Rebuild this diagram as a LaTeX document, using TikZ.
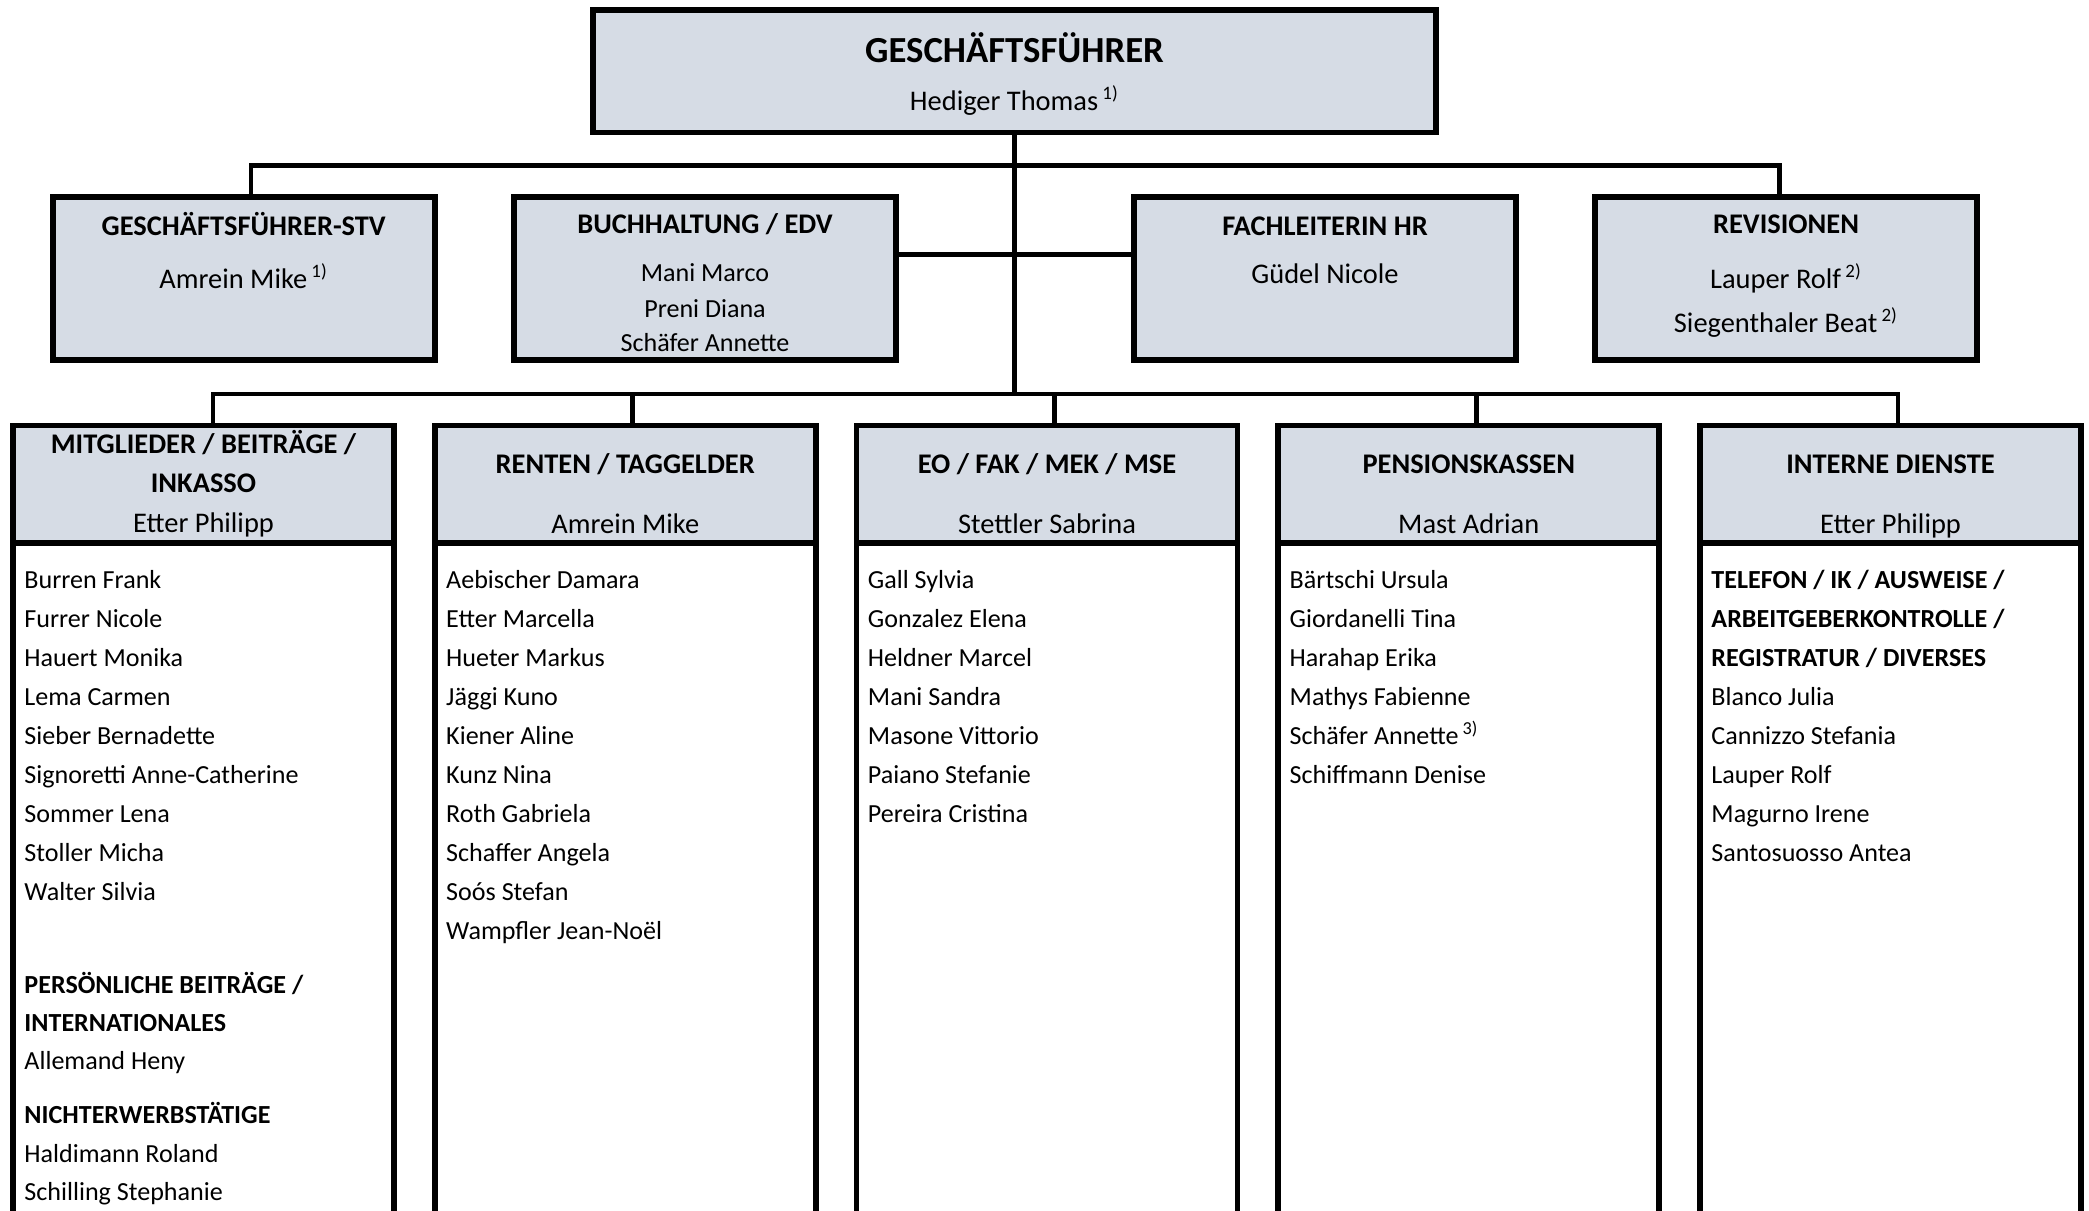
\documentclass[tikz,border=0pt]{standalone}
\usepackage{fontspec}
\setmainfont{Carlito}

\newdimen\pxu
\pxu=0.422pt
\newcommand{\refmark}[1]{\textsuperscript{\ #1)}}

\begin{document}
\begin{tikzpicture}[x=0.422pt,y=-0.422pt]

  \definecolor{boxcol}{RGB}{214,220,229}

 \tikzset{
      boxstl/.style={draw,line width=2.5pt,fill=boxcol,inner sep=0pt,
        outer sep=0pt,anchor=north west},
      topbox/.style={boxstl,minimum width=843*\pxu,minimum height=122.5*\pxu},
      midbox/.style={boxstl,minimum width=382*\pxu,minimum height=163*\pxu},
      headbox/.style={boxstl,minimum width=381*\pxu,minimum height=117.5*\pxu},
      bodybox/.style={boxstl,fill=white,minimum width=381*\pxu,minimum height=800*\pxu},
      linkstl/.style={line width=2pt},
      bigttl/.style={anchor=base,inner sep=0pt,font=\bfseries\fontsize{15.5}{18}\selectfont},
      ttl/.style={anchor=base,inner sep=0pt,font=\bfseries\fontsize{12}{14}\selectfont},
      nm/.style={anchor=base,inner sep=0pt,font=\fontsize{12}{14}\selectfont},
      smallnm/.style={anchor=base,inner sep=0pt,font=\fontsize{11}{13}\selectfont},
      lst/.style={anchor=base west,inner sep=0pt,font=\fontsize{11}{13}\selectfont},
    }

 \useasboundingbox (0,0) rectangle (2089,1211);
 \clip (0,0) rectangle (2089,1211);

 % top of the chart
 \node[topbox] (gf) at (593,10) {};

 % staff boxes
 \node[midbox] (stv) at (53,197) {};
 \node[midbox] (edv) at (514,197) {};
 \node[midbox] (hr) at (1134,197) {};
 \node[midbox] (rev) at (1595,197) {};

 % departments, they run off the page at the bottom
 \node[headbox] (hd1) at (13,425.5) {};
 \node[bodybox] (bd1) at (13,543) {};
 \node[headbox] (hd2) at (434.75,425.5) {};
 \node[bodybox] (bd2) at (434.75,543) {};
 \node[headbox] (hd3) at (856.5,425.5) {};
 \node[bodybox] (bd3) at (856.5,543) {};
 \node[headbox] (hd4) at (1278.25,425.5) {};
 \node[bodybox] (bd4) at (1278.25,543) {};
 \node[headbox] (hd5) at (1700,425.5) {};
 \node[bodybox] (bd5) at (1700,543) {};

 \coordinate (up1) at (251,165.5);
 \coordinate (up4) at (1779.5,165.5);
 \coordinate (side) at (1015,254.5);

 \coordinate (lo1) at (213,394);
 \coordinate (lo2) at (632.75,394);
 \coordinate (lo3) at (1054.5,394);
 \coordinate (lo4) at (1476.25,394);
 \coordinate (lo5) at (1898,394);

 \draw[linkstl] (gf.south) -- (gf.south |- lo1);
 \draw[linkstl] (up1 |- stv.north) -- (up1) -- (up4) -- (up4 |- rev.north);
 \draw[linkstl] (edv.east |- side) -- (hr.west |- side);
 \draw[linkstl] (lo1 |- hd1.north) -- (lo1) -- (lo5) -- (lo5 |- hd5.north);
 \foreach \i in {2,3,4}
   \draw[linkstl] (lo\i) -- (lo\i |- hd\i.north);

 \node[bigttl] (gft) at (1014.5,62) {GESCHÄFTSFÜHRER};
 \node[nm] (gfn) at (1014.5,110) {Hediger Thomas\refmark{1}};

 \node[ttl] (stvt) at (243.75,235) {GESCHÄFTSFÜHRER-STV};
 \node[nm] (stvn) at (243.75,288) {Amrein Mike\refmark{1}};

 \node[ttl] (edvt) at (705,233) {BUCHHALTUNG / EDV};
 \node[smallnm] (edvn1) at (705,281) {Mani Marco};
 \node[smallnm] (edvn2) at (705,317) {Preni Diana};
 \node[smallnm] (edvn3) at (705,351) {Schäfer Annette};

 \node[ttl] (hrt) at (1325,235) {FACHLEITERIN HR};
 \node[nm] (hrn) at (1325,283) {Güdel Nicole};

 \node[ttl] (revt) at (1786,233) {REVISIONEN};
 \node[nm] (revn1) at (1786,288) {Lauper Rolf\refmark{2}};
 \node[nm] (revn2) at (1786,332) {Siegenthaler Beat\refmark{2}};

 % department heads
 \node[ttl] (hd1t1) at (203.5,453) {MITGLIEDER / BEITRÄGE /};
 \node[ttl] (hd1t2) at (203.5,492) {INKASSO};
 \node[nm] (hd1n) at (203.5,532) {Etter Philipp};
 \node[ttl] (hd2t) at (625.25,473) {RENTEN / TAGGELDER};
 \node[nm] (hd2n) at (625.25,533) {Amrein Mike};
 \node[ttl] (hd3t) at (1047,473) {EO / FAK / MEK / MSE};
 \node[nm] (hd3n) at (1047,533) {Stettler Sabrina};
 \node[ttl] (hd4t) at (1468.75,473) {PENSIONSKASSEN};
 \node[nm] (hd4n) at (1468.75,533) {Mast Adrian};
 \node[ttl] (hd5t) at (1890.5,473) {INTERNE DIENSTE};
 \node[nm] (hd5n) at (1890.5,533) {Etter Philipp};

 % staff lists
 \foreach \who [count=\i from 0] in {Burren Frank,Furrer Nicole,Hauert Monika,
   Lema Carmen,Sieber Bernadette,Signoretti Anne-Catherine,Sommer Lena,
   Stoller Micha,Walter Silvia}
   \node[lst] (l1-\i) at (24,{588+39*\i}) {\who};
 \node[lst] (l1-p1) at (24,993) {\textbf{PERSÖNLICHE BEITRÄGE /}};
 \node[lst] (l1-p2) at (24,1031) {\textbf{INTERNATIONALES}};
 \node[lst] (l1-p3) at (24,1069) {Allemand Heny};
 \node[lst] (l1-n1) at (24,1123) {\textbf{NICHTERWERBSTÄTIGE}};
 \node[lst] (l1-n2) at (24,1162) {Haldimann Roland};
 \node[lst] (l1-n3) at (24,1200) {Schilling Stephanie};

 \foreach \who [count=\i from 0] in {Aebischer Damara,Etter Marcella,
   Hueter Markus,Jäggi Kuno,Kiener Aline,Kunz Nina,Roth Gabriela,
   Schaffer Angela,Soós Stefan,Wampfler Jean-Noël}
   \node[lst] (l2-\i) at (445.75,{588+39*\i}) {\who};

 \foreach \who [count=\i from 0] in {Gall Sylvia,Gonzalez Elena,
   Heldner Marcel,Mani Sandra,Masone Vittorio,Paiano Stefanie,
   Pereira Cristina}
   \node[lst] (l3-\i) at (867.5,{588+39*\i}) {\who};

 \foreach \who [count=\i from 0] in {Bärtschi Ursula,Giordanelli Tina,
   Harahap Erika,Mathys Fabienne,Schäfer Annette\refmark{3},
   Schiffmann Denise}
   \node[lst] (l4-\i) at (1289.25,{588+39*\i}) {\who};

 \foreach \who [count=\i from 0] in {\textbf{TELEFON / IK / AUSWEISE /},
   \textbf{ARBEITGEBERKONTROLLE /},\textbf{REGISTRATUR / DIVERSES},
   Blanco Julia,Cannizzo Stefania,Lauper Rolf,Magurno Irene,
   Santosuosso Antea}
   \node[lst] (l5-\i) at (1711,{588+39*\i}) {\who};
\end{tikzpicture}
\end{document}
